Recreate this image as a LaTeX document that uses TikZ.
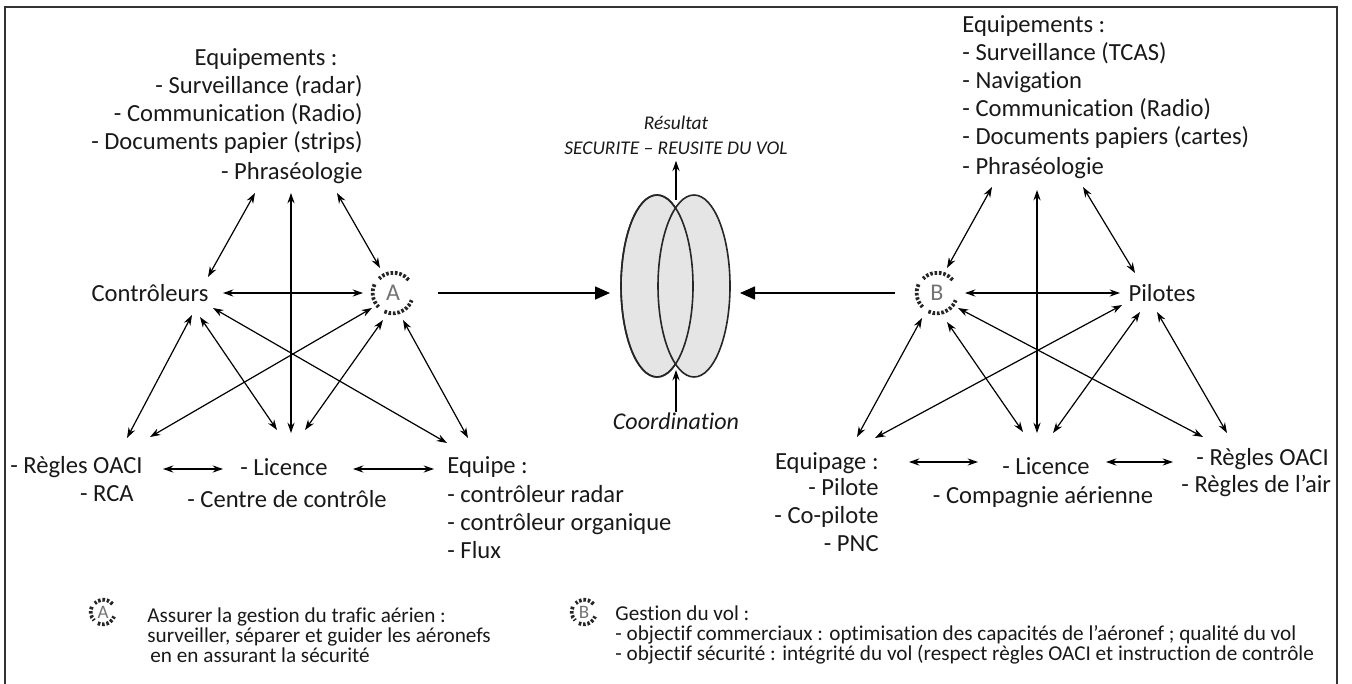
\documentclass[tikz,border=0pt]{standalone}
\usepackage{fontspec}
\setmainfont{Carlito}[Ligatures={TeX,NoCommon}]
\usetikzlibrary{shapes.geometric, arrows.meta, positioning, calc}

\begin{document}
\begin{tikzpicture}[
    x=0.5pt, y=-0.5pt,
    lbl/.style={inner sep=0pt, text=black!90, font=\fontsize{12.3}{14}\selectfont},
    lst/.style={lbl, execute at begin node=\strut},
    note/.style={inner sep=0pt, text=black!90, font=\fontsize{10.6}{10.2}\selectfont, align=left, execute at begin node=\strut},
    res/.style={inner sep=0pt, text=black!90, font=\fontsize{9.7}{11}\selectfont\itshape},
    hub/.style={circle, minimum size=20pt, inner sep=0pt, text=black!55, font=\fontsize{12}{13}\selectfont},
    leghub/.style={hub, minimum size=12pt, font=\fontsize{9.5}{10}\selectfont},
    ring/.style={line width=1.9pt, draw=black!85, dash pattern=on 1.3pt off 0.9pt},
    lobe/.style={ellipse, draw=black!85, line width=0.8pt, fill=gray!20, minimum width=36pt, minimum height=91pt, inner sep=0pt},
    link/.style={line width=0.6pt, {Stealth[length=5.2pt,width=3.6pt]}-{Stealth[length=5.2pt,width=3.6pt]}},
    up/.style={line width=0.6pt, -{Stealth[length=5.2pt,width=3.6pt]}},
    flow/.style={line width=0.8pt, -{Triangle[length=7.5pt,width=6.5pt]}}
]
\useasboundingbox (0,0) rectangle (1352,684);

\begin{scope}
\clip (0,0) rectangle (1337,684);

% Controle (gauche)
\node[lst, align=right, anchor=north east] (eqA) at (363,48.4) {Equipements :\hspace*{12.5pt}\\- Surveillance (radar)\hspace*{13pt}\\- Communication (Radio)\hspace*{13.5pt}\\- Documents papier (strips)};
\node[lbl, anchor=east] (phrA) at (363,173) {- Phraséologie};
\node[lbl] (ctrl) at (150,293) {Contrôleurs};
\node[hub] (A) at (393,293) {A};
\node[lbl, anchor=east] (regA) at (143,467) {- Règles OACI};
\node[lbl, anchor=east] (rcaA) at (134,494) {- RCA};
\node[lbl] (licA) at (284,467) {- Licence};
\node[lbl] (ccA) at (287,499) {- Centre de contrôle};
\node[lbl, anchor=west] (eqpA) at (447,467) {Equipe :};
\node[lst, align=left, anchor=north west] (eqpAl) at (447,485.4) {- contrôleur radar\\- contrôleur organique\\- Flux};

% Vol (droite)
\node[lst, align=left, anchor=north west] (eqB) at (962,15.4) {Equipements :\\- Surveillance (TCAS)\\- Navigation\\- Communication (Radio)\\- Documents papiers (cartes)};
\node[lbl, anchor=west] (phrB) at (962,168) {- Phraséologie};
\node[hub] (B) at (937,293) {B};
\node[lbl] (pil) at (1162,293) {Pilotes};
\node[lbl, anchor=east] (eqgB) at (879,463) {Equipage :};
\node[lst, align=right, anchor=north east] (eqgBl) at (879,478.4) {- Pilote\\- Co-pilote\\- PNC};
\node[lbl] (licB) at (1046,466) {- Licence};
\node[lbl] (cpB) at (1043,497) {- Compagnie aérienne};
\node[lbl, anchor=west] (regB) at (1196,459) {- Règles OACI};
\node[lbl, anchor=west] (rdaB) at (1181,486) {- Règles de l'air};

% Resultat
\node[lobe] (ellL) at (657,286) {};
\node[lobe] (ellR) at (694,286) {};
\draw[draw=black!85, line width=0.8pt] (ellL.center) ellipse [x radius=36, y radius=91];
\node[res] (resT) at (676,123) {Résultat};
\node[res] (res) at (676,148) {SECURITE – REUSITE DU VOL};
\node[lbl, font=\fontsize{12}{14}\selectfont\itshape] (coord) at (676,421) {Coordination};

% Legende
\node[leghub] (legA) at (103,612) {A};
\node[note, anchor=north west] (legAtxt) at (147,607) {Assurer la gestion du trafic aérien :\\surveiller, séparer et guider les aéronefs\\\hspace*{1.5pt}en en assurant la sécurité};
\node[leghub] (legB) at (584,612) {B};
\node[note, anchor=north west] (legBtxt) at (615,605) {Gestion du vol :\\- objectif commerciaux : optimisation des capacités de l'aéronef ; qualité du vol\\- objectif sécurité : intégrité du vol (respect règles OACI et instruction de contrôle};

% Anneaux A et B
\foreach \n/\r in {A/10pt, B/10pt, legA/6pt, legB/6pt} {
  \draw[ring] (\n.40) arc[start angle=40, end angle=135, radius=\r];
  \draw[ring] (\n.155) arc[start angle=155, end angle=225, radius=\r];
  \draw[ring] (\n.245) arc[start angle=245, end angle=340, radius=\r];
}

% Liens gauche
\draw[link] ([shift={(-108,20)}]phrA.east) -- ([shift={(58,-16)}]ctrl.center);
\draw[link] ([shift={(-72,20)}]phrA.east) -- ([shift={(7,-34)}]licA.center);
\draw[link] ([shift={(-26,20)}]phrA.east) -- ([shift={(-13,-25)}]A.center);
\draw[link] ([shift={(73,0)}]ctrl.center) -- ([shift={(-30,0)}]A.center);
\draw[link] ([shift={(42,22)}]ctrl.center) -- ([shift={(-16,-29)}]regA.east);
\draw[link] ([shift={(50,24)}]ctrl.center) -- ([shift={(-7,-37)}]licA.center);
\draw[link] ([shift={(63,15)}]ctrl.center) -- ([shift={(0,-24)}]eqpA.west);
\draw[link] ([shift={(-21,15)}]A.center) -- ([shift={(7,-30)}]regA.east);
\draw[link] ([shift={(-10,27)}]A.center) -- ([shift={(21,-37)}]licA.center);
\draw[link] ([shift={(10,27)}]A.center) -- ([shift={(21,-29)}]eqpA.west);
\draw[link] ([shift={(20,2)}]regA.east) -- ([shift={(-61,2)}]licA.center);
\draw[link] ([shift={(69,2)}]licA.center) -- ([shift={(-13,2)}]eqpA.west);

% Liens droite
\draw[link] ([shift={(30,19)}]phrB.west) -- ([shift={(10,-25)}]B.center);
\draw[link] ([shift={(75,22)}]phrB.west) -- ([shift={(-9,-33)}]licB.center);
\draw[link] ([shift={(121,19)}]phrB.west) -- ([shift={(-27,-20)}]pil.center);
\draw[link] ([shift={(28,0)}]B.center) -- ([shift={(-42,0)}]pil.center);
\draw[link] ([shift={(-15,25)}]B.center) -- ([shift={(-22,-26)}]eqgB.east);
\draw[link] ([shift={(10,29)}]B.center) -- ([shift={(-23,-34)}]licB.center);
\draw[link] ([shift={(21,15)}]B.center) -- ([shift={(7,-22)}]regB.west);
\draw[link] ([shift={(-40,12)}]pil.center) -- ([shift={(-4,-25)}]eqgB.east);
\draw[link] ([shift={(-22,19)}]pil.center) -- ([shift={(7,-33)}]licB.center);
\draw[link] ([shift={(-5,19)}]pil.center) -- ([shift={(31,-26)}]regB.west);
\draw[link] ([shift={(30,-1)}]eqgB.east) -- ([shift={(-68,-4)}]licB.center);
\draw[link] ([shift={(60,-4)}]licB.center) -- ([shift={(-23,3)}]regB.west);

% Vers le resultat
\draw[flow] ([shift={(45,0)}]A.center) -- ([shift={(-47,7)}]ellL.center);
\draw[flow] ([shift={(-42,0)}]B.center) -- ([shift={(46,7)}]ellR.center);
\draw[up, shorten >=3pt] ([shift={(19,-86)}]ellL.center) -- (res);
\draw[up] (coord) -- ([shift={(19,84)}]ellL.center);
\end{scope}

% Cadre
\draw[line width=1pt, black!80] (5,684) -- (5,7) -- (1337,7) -- (1337,684);

\end{tikzpicture}
\end{document}
